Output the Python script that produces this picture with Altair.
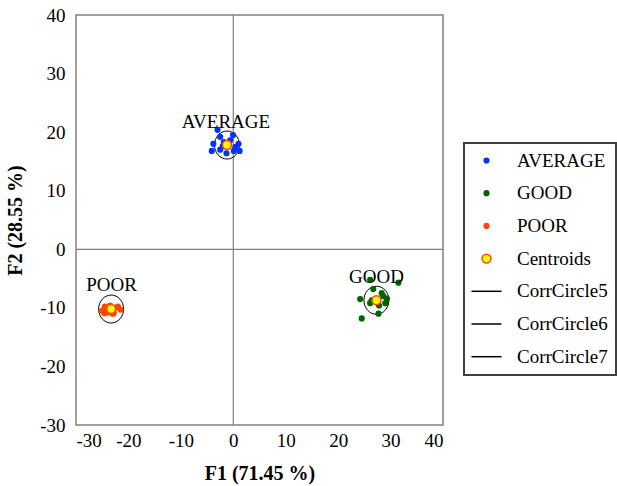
import altair as alt
import pandas as pd

# ---- data ----
avg_x = [-3.0, -2.5, -3.8, 1.0, 1.2, -1.3, 0.1, -0.05, -2.5, -4.1, -1.8, -0.6, -2.0, 0.4]
avg_y = [20.4, 19.2, 18.0, 18.0, 16.8, 16.4, 16.8, 19.5, 17.0, 16.8, 18.3, 18.6, 17.6, 17.5]

good_x = [26.1, 31.5, 26.7, 24.2, 26.4, 28.3, 29.0, 27.7, 24.5, 29.3, 26.1, 27.8, 28.6]
good_y = [-5.2, -5.7, -6.8, -8.5, -8.7, -7.5, -9.2, -11.0, -11.8, -8.4, -9.2, -9.6, -8.0]

poor_x = [-25.0, -24.5, -24.0, -23.5, -23.0, -22.5, -22.0, -21.5, -24.0, -23.0, -22.8, -24.6]
poor_y = [-10.5, -9.8, -10.8, -9.6, -11.0, -10.0, -9.8, -10.3, -10.2, -10.4, -10.9, -10.9]

centroid_names = ["AVERAGE", "GOOD", "POOR"]
centroid_x = [-1.2, 27.3, -23.3]
centroid_y = [17.8, -8.7, -10.2]

circle_names = ["CorrCircle5", "CorrCircle6", "CorrCircle7"]

label_names = ["AVERAGE", "GOOD", "POOR"]
label_x = [-1.4, 27.3, -23.2]
label_y = [21.7, -4.7, -6.1]

series_domain = ["AVERAGE", "GOOD", "POOR", "Centroids"] + circle_names
x_ticks = [-30, -20, -10, 0, 10, 20, 30, 40]
y_ticks = [-30, -20, -10, 0, 10, 20, 30, 40]

# ---- tables ----
rows = []
for xs, ys, name in [(avg_x, avg_y, "AVERAGE"), (good_x, good_y, "GOOD"), (poor_x, poor_y, "POOR")]:
    for a, b in zip(xs, ys):
        rows.append({"x": a, "y": b, "series": name})
for a, b in zip(centroid_x, centroid_y):
    rows.append({"x": a, "y": b, "series": "Centroids"})
points = pd.DataFrame(rows)
points["z"] = range(len(points))

circles = pd.DataFrame({"x": centroid_x, "y": centroid_y, "series": circle_names})
labels = pd.DataFrame({"x": label_x, "y": label_y, "label": label_names})

FONT = "Liberation Serif"
fills = ["#0033FF", "#006400", "#FF4500", "#FFFF00", "transparent", "transparent", "transparent"]
strokes = ["#0033FF", "#006400", "#FF4500", "#FF4500", "black", "black", "black"]
line_path = "M-6.4,0L6.4,0"
big_circle = "M-1.9,0A1.9,1.9,0,1,0,1.9,0A1.9,1.9,0,1,0,-1.9,0Z"
shapes = ["circle", "circle", "circle", big_circle, line_path, line_path, line_path]
ellipse = "M-0.893,0A0.893,1,0,1,0,0.893,0A0.893,1,0,1,0,-0.893,0Z"

xscale = alt.Scale(domain=[-30, 40], nice=False, zero=False)
yscale = alt.Scale(domain=[-30, 40], nice=False, zero=False)

common_axis = dict(grid=False, ticks=False, domain=False, labelExpr="'' + datum.value",
                   labelFont=FONT, labelFontSize=19, labelColor="black",
                   titleFont=FONT, titleFontSize=20, titleFontWeight="bold", titleColor="black")
xaxis = alt.Axis(values=x_ticks, title="F1 (71.45 %)", labelPadding=6, titleY=48,
                 titleBaseline="middle", **common_axis)
yaxis = alt.Axis(values=y_ticks, title="F2 (28.55 %)", labelPadding=11, titleX=-61, titleY=205,
                 titleAngle=270, titleBaseline="middle", titleAlign="center", **common_axis)

zero = pd.DataFrame({"v": [0]})
vrule = alt.Chart(zero).mark_rule(color="#808080", strokeWidth=1.2).encode(
    x=alt.X("v:Q", scale=xscale, axis=xaxis))
hrule = alt.Chart(zero).mark_rule(color="#808080", strokeWidth=1.2).encode(
    y=alt.Y("v:Q", scale=yscale, axis=yaxis))

circ = alt.Chart(circles).mark_point(shape=ellipse, size=784, filled=False, stroke="black",
                                     strokeWidth=1, opacity=1).encode(
    x=alt.X("x:Q", scale=xscale, axis=xaxis),
    y=alt.Y("y:Q", scale=yscale, axis=yaxis))

legend = alt.Legend(title=None, orient="none", legendX=388, legendY=128,
                    strokeColor="#404040", fillColor="white", padding=8,
                    labelFont=FONT, labelFontSize=19, labelColor="black",
                    rowPadding=12.7, symbolOffset=5, labelOffset=21,
                    symbolStrokeWidth=1.5, symbolSize=22, labelLimit=300)

pts = alt.Chart(points).mark_point(filled=True, opacity=1, strokeWidth=1.5, size=22).encode(
    x=alt.X("x:Q", scale=xscale, axis=xaxis),
    y=alt.Y("y:Q", scale=yscale, axis=yaxis),
    fill=alt.Fill("series:N", scale=alt.Scale(domain=series_domain, range=fills), legend=legend),
    stroke=alt.Stroke("series:N", scale=alt.Scale(domain=series_domain, range=strokes), legend=legend),
    shape=alt.Shape("series:N", scale=alt.Scale(domain=series_domain, range=shapes), legend=legend),
    order=alt.Order("z:Q", sort="ascending"),
)

txt = alt.Chart(labels).mark_text(font=FONT, fontSize=19, color="black", align="center",
                                  baseline="middle").encode(
    x=alt.X("x:Q", scale=xscale, axis=xaxis),
    y=alt.Y("y:Q", scale=yscale, axis=yaxis),
    text="label:N")

chart = alt.layer(vrule, hrule, circ, pts, txt).properties(
    width=367, height=410,
    background="white",
    autosize=alt.AutoSizeParams(type="none"),
    padding={"left": 76, "top": 15, "right": 174, "bottom": 61},
).configure_view(stroke="#808080", strokeWidth=1.5).configure_legend(strokeWidth=2)

chart.save("out.html", embed_options={"renderer": "svg", "actions": False})
